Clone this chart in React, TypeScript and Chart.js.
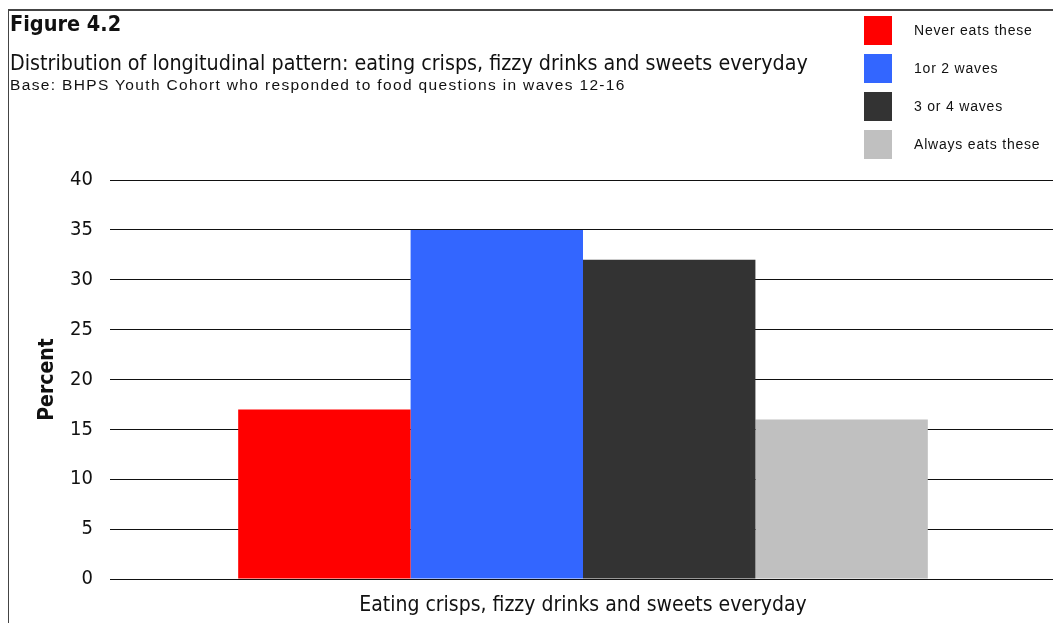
import React, { useEffect, useRef } from "react";
import { Chart, registerables } from "chart.js";

Chart.register(...registerables);

// Chart content
const figureLabel = "Figure 4.2";
const titleText =
  "Distribution of longitudinal pattern: eating crisps, fizzy drinks and sweets everyday";
const baseText =
  "Base: BHPS Youth Cohort who responded to food questions in waves 12-16";
const yAxisTitle = "Percent";

const categories = ["Eating crisps, fizzy drinks and sweets everyday"];
const seriesNames = ["Never eats these", "1or 2 waves", "3 or 4 waves", "Always eats these"];
const neverValues = [17];
const oneTwoValues = [35];
const threeFourValues = [32];
const alwaysValues = [16];
const seriesColors = ["#ff0000", "#3366ff", "#333333", "#c0c0c0"];
const yMin = 0;
const yMax = 40;
const yStep = 5;

const seriesValues = [neverValues, oneTwoValues, threeFourValues, alwaysValues];

const W = 1053;
const H = 615;
const tahomaLike = "'DejaVu Sans Condensed', 'DejaVu Sans', sans-serif";
const arialLike = "'Liberation Sans', Arial, sans-serif";

export default function App() {
  const canvasRef = useRef<HTMLCanvasElement | null>(null);

  useEffect(() => {
    const canvas = canvasRef.current;
    if (!canvas) return;
    const chart = new Chart(canvas, {
      type: "bar",
      data: {
        labels: categories,
        datasets: seriesNames.map((name, i) => ({
          label: name,
          data: seriesValues[i],
          backgroundColor: seriesColors[i],
          borderWidth: 0,
          categoryPercentage: 0.729,
          barPercentage: 1,
        })),
      },
      options: {
        responsive: false,
        animation: false,
        devicePixelRatio: 1,
        layout: { padding: { left: 0, right: 5, top: 172, bottom: 0 } },
        plugins: {
          legend: { display: false },
          tooltip: { enabled: false },
          title: { display: false },
        },
        scales: {
          x: {
            grid: { display: false },
            border: { display: false },
            ticks: {
              color: "#111",
              padding: 6,
              font: { family: tahomaLike, size: 21 },
            },
            afterFit: (s: any) => {
              s.height = 44;
            },
          },
          y: {
            min: yMin,
            max: yMax,
            border: { display: false },
            grid: { color: "#111", lineWidth: 1, drawTicks: false },
            ticks: {
              stepSize: yStep,
              color: "#111",
              padding: 17,
              font: { family: tahomaLike, size: 20 },
            },
            title: {
              display: true,
              text: yAxisTitle,
              color: "#111",
              font: { family: tahomaLike, size: 21, weight: "bold" },
              padding: { top: 27, bottom: 0 },
            },
            afterFit: (s: any) => {
              s.width = 102;
            },
          },
        },
      },
    });
    return () => chart.destroy();
  }, []);

  return (
    <div style={{ position: "relative", width: W, height: H, background: "#fff" }}>
      <canvas
        ref={canvasRef}
        width={W}
        height={H}
        style={{ position: "absolute", left: 0, top: 0, width: W, height: H }}
      />
      {/* frame */}
      <div style={{ position: "absolute", left: -1, top: 1, width: W + 1, height: 2, background: "#444" }} />
      <div style={{ position: "absolute", left: -1, top: 1, width: 2, height: H - 1, background: "#444" }} />
      {/* heading */}
      <div
        style={{
          position: "absolute",
          left: 2,
          top: 3,
          font: `bold 21.5px ${tahomaLike}`,
          lineHeight: "25px",
          color: "#111",
          whiteSpace: "nowrap",
        }}
      >
        {figureLabel}
      </div>
      <div
        style={{
          position: "absolute",
          left: 2,
          top: 43,
          font: `21.3px ${tahomaLike}`,
          lineHeight: "24px",
          color: "#111",
          whiteSpace: "nowrap",
        }}
      >
        {titleText}
      </div>
      <div
        style={{
          position: "absolute",
          left: 2,
          top: 68,
          font: `15.5px ${arialLike}`,
          letterSpacing: "1.35px",
          lineHeight: "17px",
          color: "#111",
          whiteSpace: "nowrap",
        }}
      >
        {baseText}
      </div>
      {/* legend */}
      {seriesNames.map((name, i) => (
        <div key={name}>
          <div
            style={{
              position: "absolute",
              left: 856,
              top: 8 + i * 38,
              width: 28,
              height: 29,
              background: seriesColors[i],
            }}
          />
          <div
            style={{
              position: "absolute",
              left: 906,
              top: 8 + i * 38,
              height: 29,
              font: `14px ${arialLike}`,
              lineHeight: "29px",
              letterSpacing: "0.8px",
              color: "#111",
              whiteSpace: "nowrap",
            }}
          >
            {name}
          </div>
        </div>
      ))}
    </div>
  );
}
